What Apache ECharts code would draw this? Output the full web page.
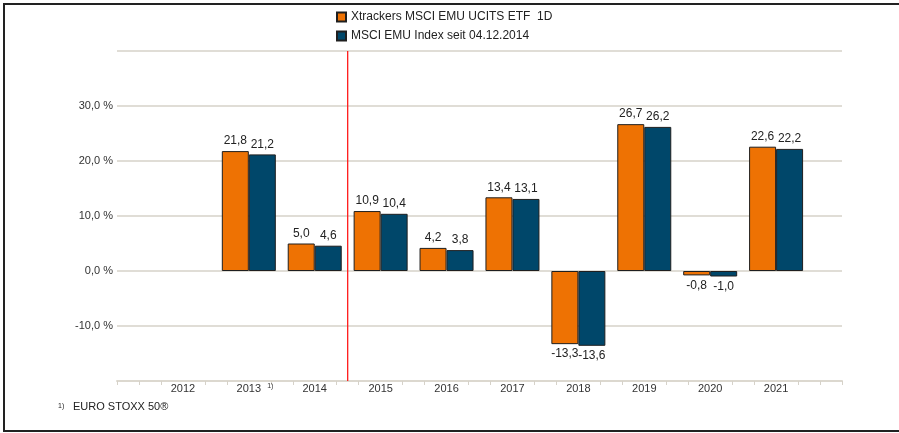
<!DOCTYPE html>
<html>
<head>
<meta charset="utf-8">
<script src="https://cdn.jsdelivr.net/npm/echarts@6/dist/echarts.min.js"></script>
<style>
  html, body { margin: 0; padding: 0; background: #fff; }
  #main { width: 899px; height: 433px; }
</style>
</head>
<body>
<div id="main"></div>
<script>
var years = ['2012', '2013', '2014', '2015', '2016', '2017', '2018', '2019', '2020', '2021'];
var etfName = 'Xtrackers MSCI EMU UCITS ETF  1D';
var indexName = 'MSCI EMU Index seit 04.12.2014';
var etfValues = [null, 21.8, 5.0, 10.9, 4.2, 13.4, -13.3, 26.7, -0.8, 22.6];
var indexValues = [null, 21.2, 4.6, 10.4, 3.8, 13.1, -13.6, 26.2, -1.0, 22.2];
var yLabels = [-10, 0, 10, 20, 30];
var footnoteYear = '2013';
var markYear = '2015';

var dom = document.getElementById('main');
var myChart = echarts.init(dom);

function fmt(v) {
  return v.toFixed(1).replace('.', ',');
}
function toPoints(vals) {
  return vals.map(function (v, i) { return [i + 1, v]; });
}

// ticks every third of a year, but not under the year labels
var tickVals = [];
for (var i = 0; i <= (years.length + 1) * 3; i++) {
  if (i % 3 !== 0 || i === 0 || i === (years.length + 1) * 3) tickVals.push(i / 3);
}

var markX = years.indexOf(markYear) + 0.5;

var barLabel = {
  show: true,
  position: 'outside',
  distance: 4,
  color: '#222',
  fontSize: 12,
  fontFamily: 'Liberation Sans',
  formatter: function (p) { return fmt(p.value[1]); }
};

var option = {
  backgroundColor: '#fff',
  textStyle: { fontFamily: 'Liberation Sans' },
  animation: false,
  legend: {
    orient: 'vertical',
    left: 336,
    top: 11,
    padding: 0,
    icon: 'rect',
    itemWidth: 9,
    itemHeight: 9,
    itemGap: 7,
    textStyle: { fontSize: 12, color: '#222', fontFamily: 'Liberation Sans' },
    data: [etfName, indexName]
  },
  grid: {
    left: 117,
    right: 57,
    top: 51,
    bottom: 52
  },
  xAxis: {
    type: 'value',
    min: 0,
    max: years.length + 1,
    interval: 1,
    axisLine: { show: true, onZero: false, lineStyle: { color: '#dcd8cf', width: 2 } },
    axisTick: { show: true, customValues: tickVals, length: 4, lineStyle: { color: '#d6d2c9', width: 1 } },
    splitLine: { show: false },
    axisLabel: {
      margin: 2,
      fontSize: 11,
      color: '#333',
      formatter: function (v) {
        var y = years[Math.round(v) - 1];
        if (!y) return '';
        if (y === footnoteYear) return '{h|1)}  ' + y + '  {s|1)}';
        return y;
      },
      rich: {
        h: { fontSize: 7, color: 'rgba(0,0,0,0)', padding: [0, 0, 4, 0] },
        s: { fontSize: 7, color: '#333', padding: [0, 0, 4, 0] }
      }
    }
  },
  yAxis: {
    type: 'value',
    min: -20,
    max: 40,
    interval: 10,
    axisLine: { show: false },
    axisTick: { show: false },
    splitLine: { lineStyle: { color: '#e0ddd6', width: 2 } },
    axisLabel: {
      margin: 4,
      fontSize: 11,
      color: '#333',
      formatter: function (v) {
        return yLabels.indexOf(v) >= 0 ? fmt(v) + ' %' : '';
      }
    }
  },
  graphic: [
    {
      type: 'rect',
      shape: { x: 4, y: 4, width: 910, height: 427 },
      style: { fill: 'none', stroke: '#222', lineWidth: 2 },
      silent: true
    },
    {
      type: 'text',
      left: 58,
      top: 403,
      style: { text: '1)', fontSize: 7, fill: '#222', fontFamily: 'Liberation Sans' }
    },
    {
      type: 'text',
      left: 73,
      top: 401,
      style: { text: 'EURO STOXX 50®', fontSize: 11, fill: '#222', fontFamily: 'Liberation Sans' }
    }
  ],
  series: [
    {
      name: etfName,
      type: 'bar',
      barWidth: 27,
      barGap: '0%',
      itemStyle: { color: '#EE7203', borderColor: '#1f1f1f', borderWidth: 1 },
      label: barLabel,
      data: toPoints(etfValues)
    },
    {
      name: indexName,
      type: 'bar',
      barWidth: 27,
      barGap: '0%',
      itemStyle: { color: '#00476A', borderColor: '#1f1f1f', borderWidth: 1 },
      label: barLabel,
      data: toPoints(indexValues)
    },
    {
      name: 'marker',
      type: 'line',
      symbol: 'none',
      color: '#ff1a1a',
      lineStyle: { color: '#ff1a1a', width: 1.3, shadowBlur: 0, shadowColor: 'rgba(0,0,0,0)' },
      emphasis: { disabled: true },
      silent: true,
      z: 3,
      data: [[markX, 40], [markX, -20]]
    }
  ]
};

window.onresize = function () {
  myChart.resize();
};

if (option && typeof option === 'object') {
  myChart.setOption(option);
}
</script>
</body>
</html>
